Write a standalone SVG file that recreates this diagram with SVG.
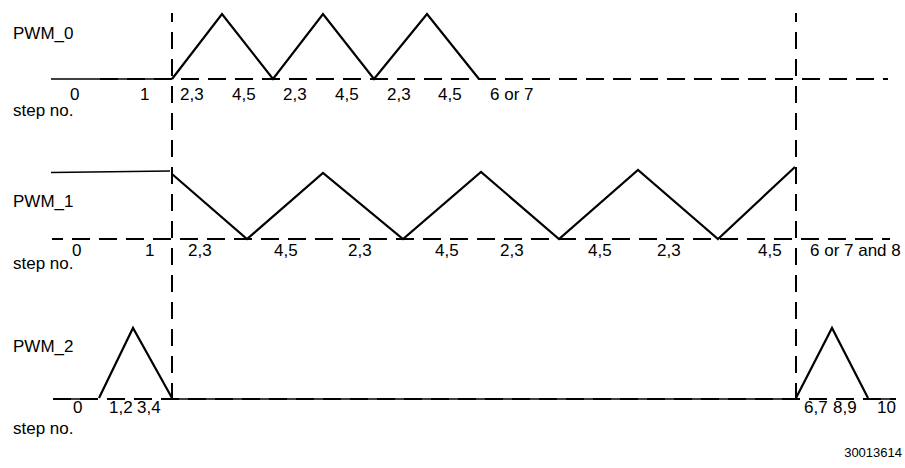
<svg xmlns="http://www.w3.org/2000/svg" width="905" height="468" viewBox="0 0 905 468">
<style>
text{font-family:"Liberation Sans",Arial,sans-serif;font-size:17px;fill:#000}
.sm{font-size:13px}
.wave{fill:none;stroke:#000;stroke-width:2.2;stroke-linejoin:miter}
.thin{fill:none;stroke:#000;stroke-width:1.5}
.dh{fill:none;stroke:#000;stroke-width:2;stroke-dasharray:18 9}
.dv{fill:none;stroke:#000;stroke-width:2;stroke-dasharray:17 10}
</style>
<rect width="905" height="468" fill="#fff"/>
<g id="connectors">
<line class="dv" x1="172" y1="13" x2="172" y2="398" stroke-dashoffset="8"/>
<line class="dv" x1="796" y1="13" x2="796" y2="398" stroke-dashoffset="8"/>
</g>
<g id="pwm0">
<text x="13" y="39">PWM_0</text>
<line class="thin" x1="51" y1="79" x2="172" y2="79"/>
<line class="dh" x1="100" y1="79" x2="888" y2="79"/>
<polyline class="wave" points="172,79 222,14 273,79 323,14 374,79 427,14 479,79"/>
<text x="70" y="100">0</text>
<text x="140" y="100">1</text>
<text x="180" y="100">2,3</text>
<text x="232" y="100">4,5</text>
<text x="283" y="100">2,3</text>
<text x="335" y="100">4,5</text>
<text x="387" y="100">2,3</text>
<text x="438" y="100">4,5</text>
<text x="490" y="100">6 or 7</text>
<text x="13" y="116">step no.</text>
</g>
<g id="pwm1">
<text x="13" y="207">PWM_1</text>
<line class="thin" x1="51" y1="172.5" x2="170" y2="171"/>
<line class="dh" x1="52" y1="239" x2="890" y2="239" stroke-dashoffset="7"/>
<polyline class="wave" points="172,174 247,239 323,173 403,239 481,172 559,239 638,170 718,239 795,167"/>
<text x="72" y="256">0</text>
<text x="145" y="256">1</text>
<text x="188" y="256">2,3</text>
<text x="274" y="256">4,5</text>
<text x="348" y="256">2,3</text>
<text x="435" y="256">4,5</text>
<text x="500" y="256">2,3</text>
<text x="588" y="256">4,5</text>
<text x="657" y="256">2,3</text>
<text x="758" y="256">4,5</text>
<text x="810" y="256">6 or 7 and 8</text>
<text x="13" y="269">step no.</text>
</g>
<g id="pwm2">
<text x="13" y="352">PWM_2</text>
<line class="thin" x1="53" y1="399" x2="93" y2="399"/>
<line class="thin" x1="172" y1="399" x2="796" y2="399"/>
<line class="thin" x1="868" y1="399" x2="896" y2="399"/>
<line class="dh" x1="53" y1="399" x2="896" y2="399"/>
<polyline class="wave" points="99,398 133,328 172,398"/>
<polyline class="wave" points="796,398 832,328 868,398"/>
<text x="73" y="413">0</text>
<text x="109" y="413">1,2</text>
<text x="137" y="413">3,4</text>
<text x="804" y="413">6,7</text>
<text x="833" y="413">8,9</text>
<text x="877" y="413">10</text>
<text x="13" y="434">step no.</text>
</g>
<text class="sm" x="902" y="457" text-anchor="end">30013614</text>
</svg>
